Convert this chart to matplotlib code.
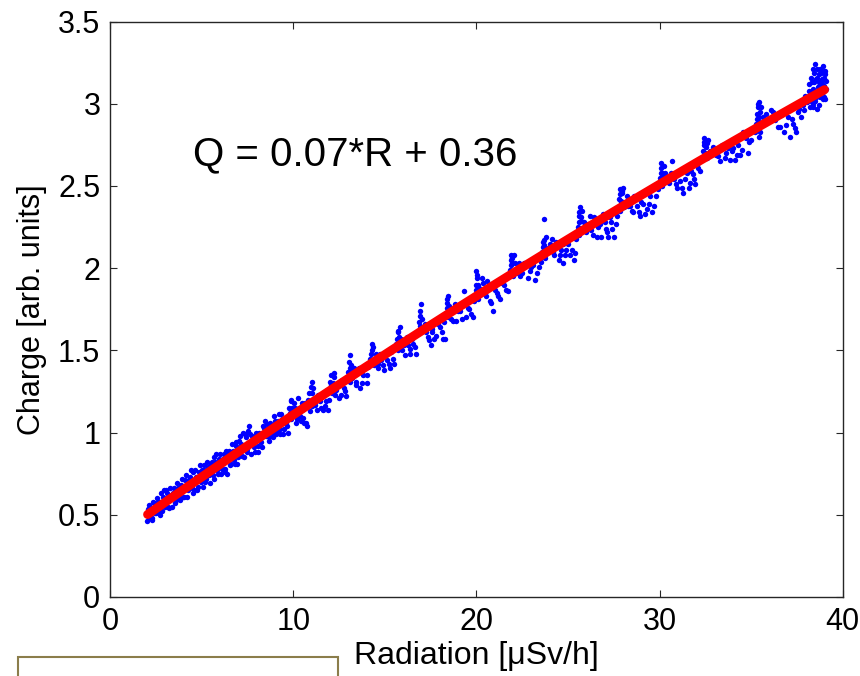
import numpy as np
import matplotlib
matplotlib.use('Agg')
import matplotlib.pyplot as plt
from matplotlib.patches import Rectangle

plt.rcParams['font.family'] = ['Liberation Sans', 'DejaVu Sans']

seg_low_x = [2.02, 2.05, 2.08, 2.10, 2.15, 2.2, 2.25, 2.3, 2.4, 2.5, 2.55, 2.65, 2.7, 2.8, 2.85,
             2.95, 3.0, 3.1, 3.2, 3.3, 3.4, 3.5, 3.6, 3.7, 3.8, 3.9, 3.95, 4.0, 4.1, 4.2,
             4.3, 4.4, 4.45, 4.55, 4.6, 4.7, 4.8, 4.9, 5.0, 5.05, 5.15, 5.25, 5.35, 5.45, 5.55,
             5.6, 5.7, 5.8, 5.85, 5.95, 6.05, 6.15, 6.25, 6.35, 6.4, 6.5, 6.6, 6.7, 6.8, 6.9,
             7.0, 7.1, 7.15, 7.25, 7.3, 7.4, 7.5, 7.6, 7.65, 7.7, 7.8, 7.9, 8.0, 8.1, 8.2,
             8.3, 8.4, 8.45, 8.5, 8.55, 8.65, 8.8, 8.9, 9.0, 9.1, 9.2, 9.3, 9.4, 9.5, 9.6,
             9.7, 9.8, 9.9, 9.95, 10.0, 10.05, 10.2, 10.3, 10.4, 10.5, 10.6, 10.75, 10.8, 10.95, 11.0,
             11.0, 11.05, 11.15, 11.3, 11.45, 11.6, 11.8, 11.9]
seg_low_y = [0.46, 0.50, 0.535, 0.48, 0.56, 0.49, 0.54, 0.47, 0.57, 0.51, 0.60, 0.51, 0.58, 0.63, 0.52,
             0.65, 0.55, 0.63, 0.54, 0.62, 0.55, 0.66, 0.59, 0.66, 0.59, 0.72, 0.67, 0.61, 0.71, 0.61,
             0.71, 0.77, 0.66, 0.76, 0.65, 0.73, 0.67, 0.80, 0.77, 0.67, 0.80, 0.72, 0.79, 0.69, 0.82,
             0.74, 0.85, 0.87, 0.77, 0.84, 0.75, 0.84, 0.78, 0.89, 0.75, 0.89, 0.81, 0.89, 0.81, 0.94,
             0.85, 0.98, 0.93, 1.00, 0.85, 0.97, 0.88, 1.04, 0.99, 0.87, 0.97, 0.88, 0.98, 0.92, 0.95,
             0.91, 1.03, 1.07, 0.98, 1.05, 0.97, 1.03, 0.97, 1.07, 1.01, 1.11, 0.99, 1.08, 1.02, 1.06,
             1.00, 1.12, 1.19, 1.15, 1.10, 1.18, 1.08, 1.15, 1.07, 1.14, 1.06, 1.04, 1.20, 1.28, 1.24,
             1.16, 1.31, 1.19, 1.14, 1.19, 1.14, 1.19, 1.14]

seg_low2_x = [2.12, 2.28, 2.35, 2.45, 2.6, 2.75, 2.9, 3.05, 3.15, 3.25, 3.45, 3.55, 3.65, 3.75, 3.85,
              4.05, 4.15, 4.25, 4.35, 4.5, 4.65, 4.75, 4.85, 4.95, 5.1, 5.2, 5.3, 5.4, 5.5, 5.65,
              5.75, 5.9, 6.0, 6.1, 6.2, 6.3, 6.45, 6.55, 6.65, 6.75, 6.85, 6.95, 7.05, 7.2, 7.35,
              7.45, 7.55, 7.75, 7.85, 7.95, 8.05, 8.15, 8.25, 8.35, 8.6, 8.7, 8.75, 8.85, 8.95, 9.05,
              9.15, 9.25, 9.35, 9.45, 9.55, 9.65, 9.75, 9.85, 9.9, 10.1, 10.15, 10.25, 10.35, 10.45, 10.55,
              10.65, 10.7, 10.85, 10.9, 11.1, 11.2, 11.35, 11.5, 11.65, 11.75, 11.85, 11.95]
seg_low2_y = [0.53, 0.48, 0.58, 0.51, 0.58, 0.50, 0.61, 0.65, 0.55, 0.66, 0.63, 0.57, 0.69, 0.61, 0.68,
              0.61, 0.74, 0.65, 0.73, 0.63, 0.77, 0.65, 0.76, 0.70, 0.77, 0.70, 0.82, 0.74, 0.81, 0.72,
              0.82, 0.75, 0.87, 0.78, 0.87, 0.76, 0.87, 0.80, 0.93, 0.83, 0.92, 0.81, 0.95, 0.86, 0.99,
              0.90, 1.01, 0.98, 0.91, 1.00, 0.88, 1.00, 0.94, 1.04, 1.02, 0.95, 1.06, 1.00, 1.10, 0.99,
              1.07, 1.02, 1.11, 0.99, 1.08, 1.04, 1.15, 1.20, 1.08, 1.15, 1.06, 1.21, 1.10, 1.18, 1.09,
              1.18, 1.06, 1.24, 1.13, 1.27, 1.17, 1.23, 1.15, 1.24, 1.16, 1.26, 1.20]

seg_mid_x = [12.0, 12.05, 12.1, 12.15, 12.2, 12.3, 12.45, 12.6, 12.75, 12.9, 13.0, 13.05, 13.1, 13.1, 13.15,
             13.25, 13.4, 13.5, 13.65, 13.8, 14.0, 14.1, 14.25, 14.3, 14.3, 14.35, 14.4, 14.5, 14.65, 14.8,
             14.95, 15.1, 15.3, 15.45, 15.6, 15.7, 15.7, 15.75, 15.8, 15.85, 15.95, 16.1, 16.25, 16.4, 16.55,
             16.7, 16.8, 16.9, 16.9, 16.95, 17.0, 17.05, 17.2, 17.35, 17.5, 17.6, 17.8, 18.0, 18.15, 18.3,
             18.35, 18.4, 18.45, 18.45, 18.5, 18.6, 18.75, 18.9, 19.1, 19.3, 19.45, 19.6, 19.8, 19.9, 20.0,
             20.0, 20.05, 20.1, 20.15, 20.3, 20.45, 20.6, 20.75, 20.9, 21.1, 21.3, 21.5, 21.7, 21.85, 21.9,
             21.9, 21.95, 22.0, 22.05, 22.25, 22.4, 22.6, 22.8, 23.0, 23.2, 23.4, 23.6, 23.65, 23.7, 23.7,
             23.75, 23.8, 24.0, 24.2, 24.35, 24.5, 24.6, 24.75, 24.9, 25.1, 25.3, 25.45]
seg_mid_y = [1.31, 1.35, 1.24, 1.30, 1.34, 1.23, 1.30, 1.23, 1.27, 1.22, 1.37, 1.43, 1.47, 1.31, 1.41,
             1.37, 1.29, 1.37, 1.27, 1.35, 1.30, 1.40, 1.48, 1.54, 1.44, 1.52, 1.41, 1.48, 1.39, 1.44,
             1.38, 1.44, 1.39, 1.45, 1.54, 1.61, 1.50, 1.58, 1.64, 1.54, 1.50, 1.47, 1.53, 1.48, 1.54,
             1.48, 1.62, 1.71, 1.65, 1.78, 1.61, 1.69, 1.66, 1.58, 1.53, 1.63, 1.59, 1.64, 1.57, 1.57,
             1.73, 1.79, 1.83, 1.70, 1.77, 1.69, 1.75, 1.68, 1.74, 1.86, 1.70, 1.75, 1.70, 1.83, 1.90,
             1.98, 1.94, 1.81, 1.88, 1.94, 1.85, 1.92, 1.80, 1.74, 1.85, 1.81, 1.90, 1.86, 1.99, 2.05,
             2.08, 2.03, 1.95, 2.08, 2.01, 1.95, 2.03, 1.94, 2.01, 1.93, 2.01, 2.10, 2.16, 2.30, 2.14,
             2.08, 2.19, 2.15, 2.10, 2.16, 2.05, 2.11, 2.03, 2.11, 2.08, 2.05, 2.18]

seg_mid2_x = [12.08, 12.25, 12.35, 12.5, 12.65, 12.8, 12.95, 13.08, 13.2, 13.3, 13.45, 13.6, 13.75, 13.9, 14.05,
              14.2, 14.28, 14.45, 14.6, 14.75, 14.9, 15.05, 15.2, 15.35, 15.5, 15.65, 15.72, 15.9, 16.05, 16.2,
              16.35, 16.5, 16.65, 16.85, 16.92, 17.1, 17.25, 17.4, 17.55, 17.7, 17.9, 18.1, 18.25, 18.38, 18.42,
              18.55, 18.7, 18.85, 19.0, 19.2, 19.4, 19.55, 19.7, 19.85, 19.95, 20.02, 20.08, 20.2, 20.35, 20.5,
              20.65, 20.8, 21.0, 21.2, 21.4, 21.6, 21.8, 21.88, 21.92, 22.1, 22.15, 22.35, 22.5, 22.7, 22.9,
              23.1, 23.3, 23.5, 23.62, 23.68, 23.72, 23.9, 24.1, 24.25, 24.4, 24.55, 24.7, 24.85, 25.0, 25.2,
              25.4]
seg_mid2_y = [1.29, 1.36, 1.26, 1.21, 1.32, 1.25, 1.34, 1.39, 1.33, 1.39, 1.31, 1.39, 1.30, 1.40, 1.35,
              1.45, 1.50, 1.45, 1.42, 1.48, 1.41, 1.49, 1.42, 1.49, 1.42, 1.57, 1.62, 1.57, 1.53, 1.58,
              1.51, 1.57, 1.52, 1.67, 1.74, 1.64, 1.61, 1.56, 1.61, 1.57, 1.66, 1.61, 1.67, 1.76, 1.81,
              1.75, 1.68, 1.78, 1.74, 1.69, 1.79, 1.76, 1.72, 1.80, 1.87, 1.96, 1.90, 1.87, 1.91, 1.83,
              1.89, 1.79, 1.87, 1.83, 1.91, 1.87, 1.95, 2.02, 2.06, 2.03, 1.97, 2.03, 1.97, 2.03, 1.98,
              2.02, 1.97, 2.04, 2.13, 2.17, 2.06, 2.12, 2.18, 2.08, 2.14, 2.08, 2.15, 2.08, 2.15, 2.11,
              2.09]

seg_high_x = [25.55, 25.6, 25.65, 25.6, 25.7, 25.75, 25.8, 25.85, 26.0, 26.2, 26.35, 26.5, 26.65, 26.8, 26.9,
              27.05, 27.2, 27.35, 27.5, 27.6, 27.75, 27.8, 27.85, 27.85, 27.9, 27.95, 28.0, 28.05, 28.2, 28.4,
              28.55, 28.7, 28.85, 29.0, 29.2, 29.4, 29.6, 29.8, 30.0, 30.05, 30.1, 30.15, 30.2, 30.25, 30.35,
              30.7, 30.8, 30.95, 31.1, 31.3, 31.5, 31.65, 31.8, 31.95, 32.1, 32.3, 32.4, 32.45, 32.5, 32.55,
              32.6, 32.65, 32.9, 33.1, 33.3, 33.5, 33.65, 33.85, 34.0, 34.2, 34.4, 34.55, 34.7, 34.85, 35.0,
              35.2, 35.3, 35.35, 35.4, 35.4, 35.45, 35.5, 35.55, 35.8, 36.0, 36.2, 36.45, 36.6, 36.8, 37.0,
              37.1, 37.3, 37.45, 37.6, 37.7, 37.9, 38.05]
seg_high_y = [2.25, 2.32, 2.37, 2.20, 2.29, 2.35, 2.24, 2.28, 2.22, 2.32, 2.20, 2.30, 2.25, 2.19, 2.33,
              2.24, 2.19, 2.28, 2.19, 2.27, 2.37, 2.42, 2.48, 2.35, 2.40, 2.46, 2.49, 2.37, 2.44, 2.38,
              2.34, 2.43, 2.34, 2.40, 2.33, 2.39, 2.34, 2.44, 2.52, 2.58, 2.64, 2.50, 2.56, 2.62, 2.54,
              2.65, 2.54, 2.49, 2.53, 2.46, 2.58, 2.52, 2.57, 2.51, 2.61, 2.67, 2.75, 2.79, 2.70, 2.74,
              2.67, 2.78, 2.74, 2.69, 2.65, 2.74, 2.70, 2.66, 2.73, 2.69, 2.69, 2.83, 2.79, 2.70, 2.78,
              2.83, 2.91, 2.98, 2.89, 2.80, 3.01, 2.95, 2.87, 2.94, 2.90, 2.95, 2.86, 2.93, 2.83, 2.92,
              2.80, 2.88, 2.83, 2.97, 2.92, 2.96, 3.01]

seg_high2_x = [25.58, 25.62, 25.68, 25.72, 25.9, 26.1, 26.28, 26.42, 26.58, 26.75, 27.0, 27.12, 27.28, 27.42, 27.65,
               27.82, 27.88, 27.92, 27.98, 28.1, 28.3, 28.48, 28.62, 28.78, 28.92, 29.1, 29.3, 29.5, 29.7, 29.9,
               30.02, 30.08, 30.12, 30.18, 30.3, 30.5, 30.6, 30.88, 31.05, 31.2, 31.4, 31.58, 31.72, 31.9, 32.05,
               32.2, 32.35, 32.42, 32.48, 32.58, 32.75, 33.0, 33.2, 33.4, 33.58, 33.75, 33.95, 34.1, 34.3, 34.5,
               34.65, 34.9, 35.1, 35.25, 35.32, 35.38, 35.42, 35.48, 35.52, 35.65, 35.9, 36.1, 36.3, 36.55, 36.7,
               36.9, 37.2, 37.4, 37.55, 37.8, 37.95]
seg_high2_y = [2.34, 2.28, 2.23, 2.31, 2.27, 2.27, 2.23, 2.31, 2.19, 2.27, 2.28, 2.22, 2.31, 2.24, 2.32,
               2.45, 2.41, 2.47, 2.38, 2.40, 2.38, 2.35, 2.44, 2.38, 2.32, 2.39, 2.36, 2.44, 2.38, 2.48,
               2.55, 2.61, 2.58, 2.52, 2.58, 2.52, 2.58, 2.51, 2.58, 2.49, 2.54, 2.49, 2.59, 2.54, 2.63,
               2.59, 2.71, 2.77, 2.67, 2.76, 2.71, 2.71, 2.68, 2.75, 2.67, 2.73, 2.71, 2.66, 2.75, 2.72,
               2.81, 2.77, 2.84, 2.88, 2.94, 3.00, 2.92, 2.83, 2.98, 2.92, 2.91, 2.96, 2.90, 2.86, 2.95,
               2.87, 2.91, 2.85, 2.95, 2.99, 3.05]

seg_end_x = [38.15, 38.2, 38.25, 38.3, 38.35, 38.4, 38.45, 38.5, 38.55, 38.6, 38.65, 38.7, 38.75, 38.8, 38.85,
             38.9, 38.95, 39.0, 39.05, 39.1, 38.3, 38.5, 38.7, 38.9, 39.05,
             38.18, 38.28, 38.38, 38.42, 38.48, 38.52, 38.58, 38.62, 38.68, 38.72, 38.78, 38.82, 38.88, 38.92, 38.98,
             39.02, 39.08, 38.35, 38.6, 38.8, 39.0]
seg_end_y = [3.08, 2.98, 3.16, 3.06, 3.21, 2.98, 3.13, 3.24, 3.04, 3.16, 3.10, 2.99, 3.21, 3.08, 3.15,
             3.03, 3.20, 3.11, 3.03, 3.14, 3.13, 3.02, 3.13, 3.23, 3.18,
             3.12, 3.02, 3.09, 3.19, 3.06, 3.15, 3.21, 3.05, 3.18, 3.11, 3.04, 3.19, 3.12, 3.07, 3.16,
             3.20, 3.09, 3.00, 2.97, 3.13, 3.04]

radiation = np.array(seg_low_x + seg_low2_x + seg_mid_x + seg_mid2_x + seg_high_x + seg_high2_x + seg_end_x)
charge = np.array(seg_low_y + seg_low2_y + seg_mid_y + seg_mid2_y + seg_high_y + seg_high2_y + seg_end_y)

# Fitted curve as drawn (slightly bowed), and its range
fit_coef = [-0.000216, 0.0788, 0.341]
fit_range = [2.05, 39.0]

fig = plt.figure(figsize=(8.6, 6.76), dpi=100)
ax = fig.add_axes([0.128, 0.117, 0.852, 0.851])

ax.plot(radiation, charge, 'o', color='#0000ff', markersize=3.9, markeredgewidth=0)
fx = np.linspace(fit_range[0], fit_range[1], 200)
ax.plot(fx, np.polyval(fit_coef, fx), color='#ff0000', linewidth=6.5, solid_capstyle='round')

ax.text(4.5, 2.69, 'Q = 0.07*R + 0.36', fontsize=29, va='center', ha='left')

ax.set_xlim(0, 40)
ax.set_ylim(0, 3.5)
ax.set_xticks([0, 10, 20, 30, 40])
ax.set_yticks([0, 0.5, 1, 1.5, 2, 2.5, 3, 3.5])
ax.set_yticklabels(['0', '0.5', '1', '1.5', '2', '2.5', '3', '3.5'])
ax.tick_params(direction='in', length=5, width=0.8, top=True, right=True,
               labelsize=22, pad=7, colors='#262626', labelcolor='black')
for s in ax.spines.values():
    s.set_color('#262626')
    s.set_linewidth(1.0)

ax.set_xlabel('Radiation [μSv/h]', fontsize=23, labelpad=3)
ax.set_ylabel('Charge [arb. units]', fontsize=22, labelpad=8)

# stray box at the bottom-left of the original slide
fig.add_artist(Rectangle((0.021, -0.02), 0.372, 0.048, transform=fig.transFigure,
                         fill=False, edgecolor='#8b7d4b', linewidth=1.5))

fig.savefig('out.png', dpi=100)
